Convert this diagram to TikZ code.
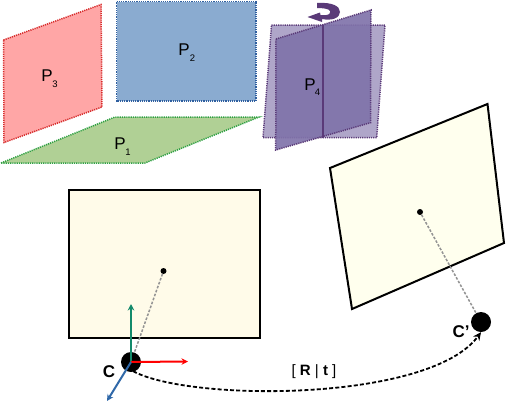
\documentclass[tikz,border=0pt]{standalone}
\usepackage{fontspec}
\setmainfont{Liberation Sans}
\usetikzlibrary{arrows.meta}
\definecolor{pinkf}{HTML}{FFA6A6}
\definecolor{pinkd}{HTML}{D62A2A}
\definecolor{bluef}{HTML}{8AABD0}
\definecolor{blued}{HTML}{2F5F9F}
\definecolor{greenf}{HTML}{B0D095}
\definecolor{greend}{HTML}{2EA043}
\definecolor{purd}{HTML}{5A3A78}
\definecolor{purl}{HTML}{AFA6C9}
\definecolor{purm}{HTML}{8073AA}
\definecolor{cream}{HTML}{FFFBE9}
\definecolor{creamb}{HTML}{FFFFEE}
\definecolor{axg}{HTML}{138A6B}
\definecolor{axb}{HTML}{2F68A8}
\tikzset{
  plane/.style={line width=1.5pt,dash pattern=on 1.2pt off 1pt},
  lab/.style={inner sep=0pt,font=\fontsize{17}{17}\selectfont},
  sub/.style={inner sep=0pt,font=\fontsize{9.5}{10}\selectfont},
  img/.style={draw=black,line width=2pt,line join=miter},
  ray/.style={draw=gray!85,line width=1.5pt,dash pattern=on 2.6pt off 1.6pt},
  axis/.style={line width=2pt,-{Stealth[length=6.5pt,width=6.5pt]}},
  cam/.style={circle,fill=black,inner sep=0pt,minimum size=20pt},
  pt/.style={circle,fill=black,inner sep=0pt,minimum size=6pt},
  camlab/.style={inner sep=0pt,font=\bfseries\fontsize{17}{17}\selectfont}
}
\begin{document}
\begin{tikzpicture}[x=1pt,y=-1pt]
\useasboundingbox (0,0) rectangle (506,402);
% planes
\draw[plane,draw=pinkd,fill=pinkf] (3.5,40) -- (101,4.5) -- (102,107) -- (4,142.5) -- cycle;
\draw[plane,draw=blued,fill=bluef] (116.5,1.5) -- (256,1.5) -- (256,101) -- (116.5,101) -- cycle;
\draw[plane,draw=greend,fill=greenf] (1,163) -- (115,117) -- (259,117) -- (145,163) -- cycle;
\node[lab] (p3) at (47,76) {P};
\node[sub] (p3s) at (55,84.5) {3};
\node[lab] (p2) at (184,50) {P};
\node[sub] (p2s) at (192.5,58.5) {2};
\node[lab] (p1) at (120,143.5) {P};
\node[sub] (p1s) at (128,152) {1};
% P4
\draw[plane,draw=purd,fill=purl] (271.5,25) -- (385,25) -- (376.7,137.7) -- (263,137.7) -- cycle;
\draw[plane,draw=purd,fill=purm,fill opacity=.92] (276,39) -- (371,10) -- (370.5,122.7) -- (275.7,150) -- cycle;
\draw[purd,line width=1.8pt] (323,25) -- (323,137.7);
\node[lab] (p4) at (310,84.5) {P};
\node[sub] (p4s) at (317.5,92.5) {4};
\fill[purd] (317,3) .. controls (332,2) and (340,6) .. (340,12) .. controls (340,18) and (332,21) .. (322,19)
  -- (322,22) -- (307.5,17) -- (320,12.5) -- (320.5,15) .. controls (328,16) and (331,14) .. (330,11) .. controls (329,8.5) and (322,8) .. (317,8) -- cycle;
% image planes
\draw[img,fill=cream] (69,190) rectangle (260,338);
\draw[img,fill=creamb] (330,168) -- (487.5,104) -- (504,243) -- (352,309) -- cycle;
\node[pt] (x1) at (163.5,271) {};
\node[pt] (x2) at (420,212) {};
\node[cam] (c1) at (131,362) {};
\node[cam] (c2) at (481,322) {};
\draw[ray] (x1) -- (c1);
\draw[ray] (x2) -- (c2);
% axes
\coordinate (ax) at (131,304);
\coordinate (ay) at (188,361.5);
\coordinate (az) at (107,401);
\draw[axis,draw=axg,fill=axg] (c1.center) -- (ax);
\draw[axis,draw=red,fill=red] (c1.center) -- (ay);
\draw[axis,draw=axb,fill=axb] (c1.center) -- (az);
\node[camlab] (cl) at (109,371.5) {C};
\node[camlab] (cpl) at (461,332) {C'};
\draw[line width=1.8pt,dash pattern=on 4pt off 2.2pt,-{Stealth[length=8pt,width=7.5pt]}]
  (c1.south east) ++(-5,2) .. controls (190,402) and (430,402) .. (c2.south);
\node[inner sep=0pt,font=\fontsize{15}{15}\selectfont] (rt) at (314,372) {[ \textbf{R} | \textbf{t} ]};
\end{tikzpicture}
\end{document}
